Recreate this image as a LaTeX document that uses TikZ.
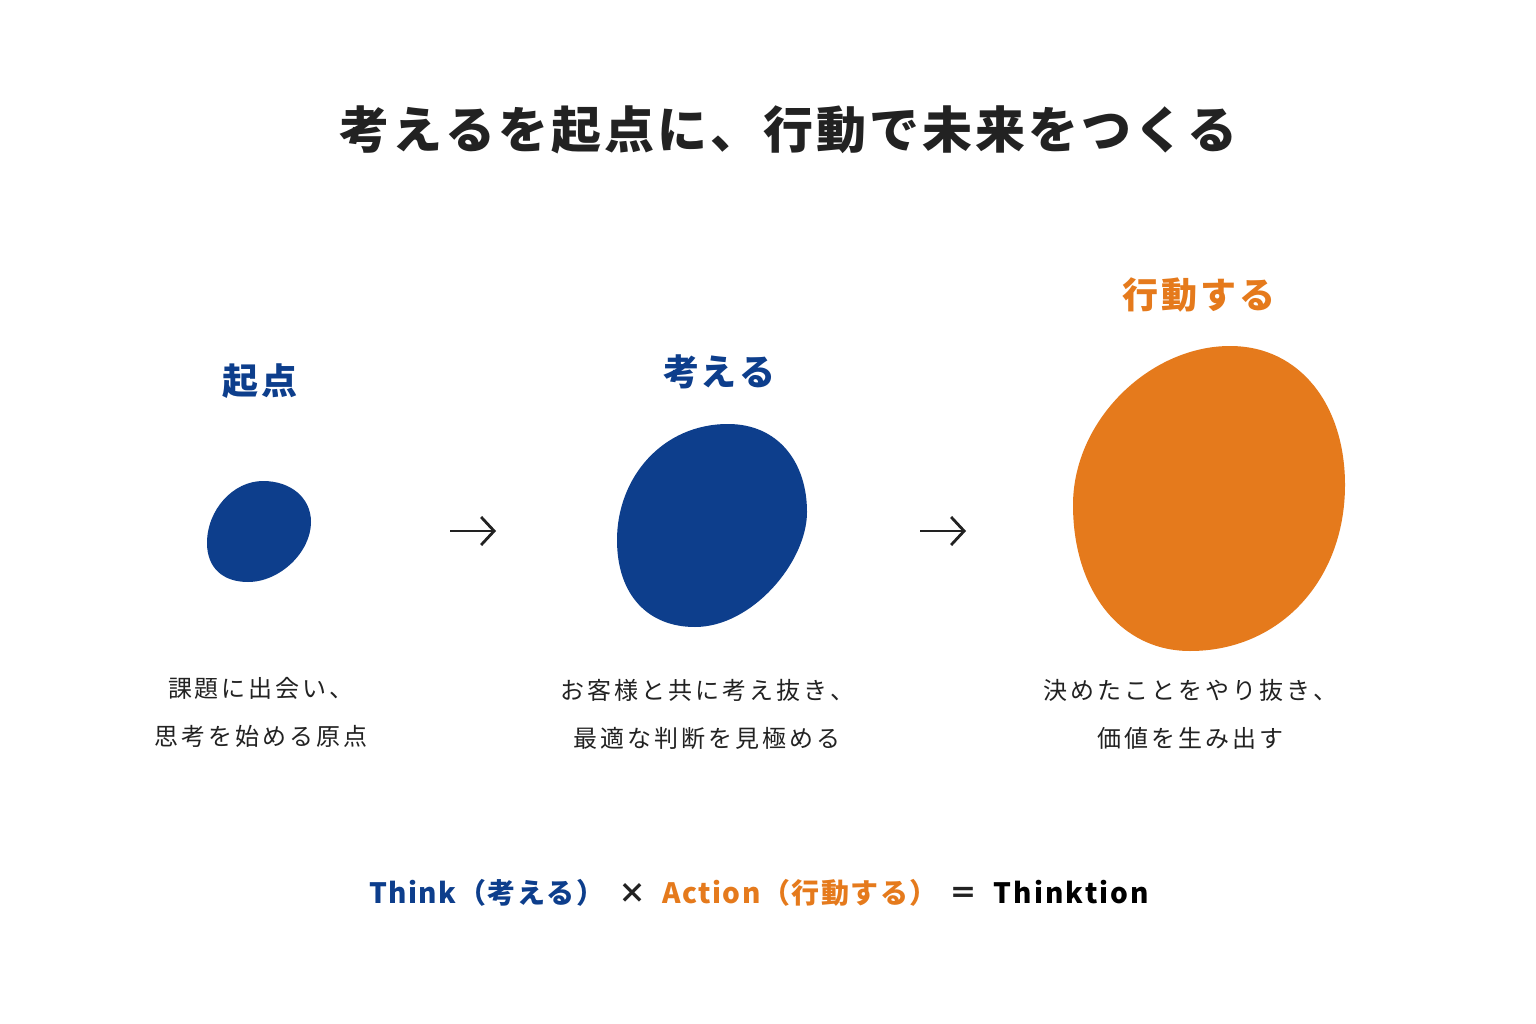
\documentclass[tikz,border=0pt]{standalone}
\usepackage{fontspec}
\usepackage{xcolor}
\usetikzlibrary{arrows.meta}
\setmainfont{Noto Sans CJK JP}
\definecolor{tblue}{HTML}{0D3E8C}
\definecolor{torange}{HTML}{E57A1C}
\definecolor{tink}{HTML}{222222}
% letter spacing by hand
\def\spacedloop#1{\ifx#1\relax\else#1\kern\lsp\expandafter\spacedloop\fi}
\newcommand\spaced[2]{\def\lsp{#1}\spacedloop#2\relax\unkern}

\begin{document}
\begin{tikzpicture}[x=1pt,y=-1pt,
	headline/.style={text=tink,font=\bfseries\fontsize{50}{56}\selectfont},
	steplabel/.style={font=\bfseries\fontsize{36}{40}\selectfont},
	desc/.style={text=tink,align=center,font=\fontsize{24}{48}\selectfont},
	arr/.style={draw=tink,line width=2.8pt,-{Straight Barb[length=13pt,width=28pt]}}]
	\useasboundingbox (0,0) rectangle (1536,1024);
	\fill[white] (0,0) rectangle (1536,1024);
	% title
	\node[headline] (title) at (788,130) {\spaced{3pt}{考えるを起点に、行動で未来をつくる}};
	% blobs
	\fill[tblue] (263,481) .. controls (291,481) and (311,498) .. (311,522)
		.. controls (311,552) and (280,582) .. (248,582)
		.. controls (223,582) and (207,568) .. (207,543)
		.. controls (207,510) and (233,481) .. (263,481) -- cycle;
	\fill[tblue] (728,424) .. controls (778,424) and (807,462) .. (807,512)
		.. controls (807,562) and (752,627) .. (695,627)
		.. controls (648,627) and (617,595) .. (617,540)
		.. controls (617,478) and (662,424) .. (728,424) -- cycle;
	\fill[torange] (1230,346) .. controls (1300,346) and (1345,405) .. (1345,485)
		.. controls (1345,580) and (1280,651) .. (1190,651)
		.. controls (1120,651) and (1073,590) .. (1073,505)
		.. controls (1073,420) and (1150,346) .. (1230,346) -- cycle;
	% step labels
	\node[steplabel,text=tblue] (kiten) at (260,381) {\spaced{4pt}{起点}};
	\node[steplabel,text=tblue] (kangaeru) at (719,372) {\spaced{2pt}{考える}};
	\node[steplabel,text=torange] (kodo) at (1199,295) {\spaced{3pt}{行動する}};
	% arrows
	\coordinate (a1s) at (450,531);
	\coordinate (a1e) at (496,531);
	\coordinate (a2s) at (920,531);
	\coordinate (a2e) at (966,531);
	\draw[arr] (a1s) -- (a1e);
	\draw[arr] (a2s) -- (a2e);
	% descriptions
	\node[desc] (d1) at (261,712) {\spaced{3pt}{課題に出会い、}\\\spaced{3pt}{思考を始める原点}};
	\node[desc] (d2) at (707,714) {\spaced{3pt}{お客様と共に考え抜き、}\\\spaced{3pt}{最適な判断を見極める}};
	\node[desc] (d3) at (1190,714) {\spaced{3pt}{決めたことをやり抜き、}\\\spaced{3pt}{価値を生み出す}};
	% formula
	\node[font=\bfseries\fontsize{28}{34}\selectfont] (formula) at (759,893)
		{{\color{tblue}\spaced{1.5pt}{Think（考える）}}\hspace{14pt}{\color{tink}×}\hspace{16pt}{\color{torange}\spaced{1.5pt}{Action（行動する）}}\hspace{12pt}{\color{tink}＝}\hspace{16pt}{\color{black}\spaced{2pt}{Thinktion}}};
\end{tikzpicture}
\end{document}
